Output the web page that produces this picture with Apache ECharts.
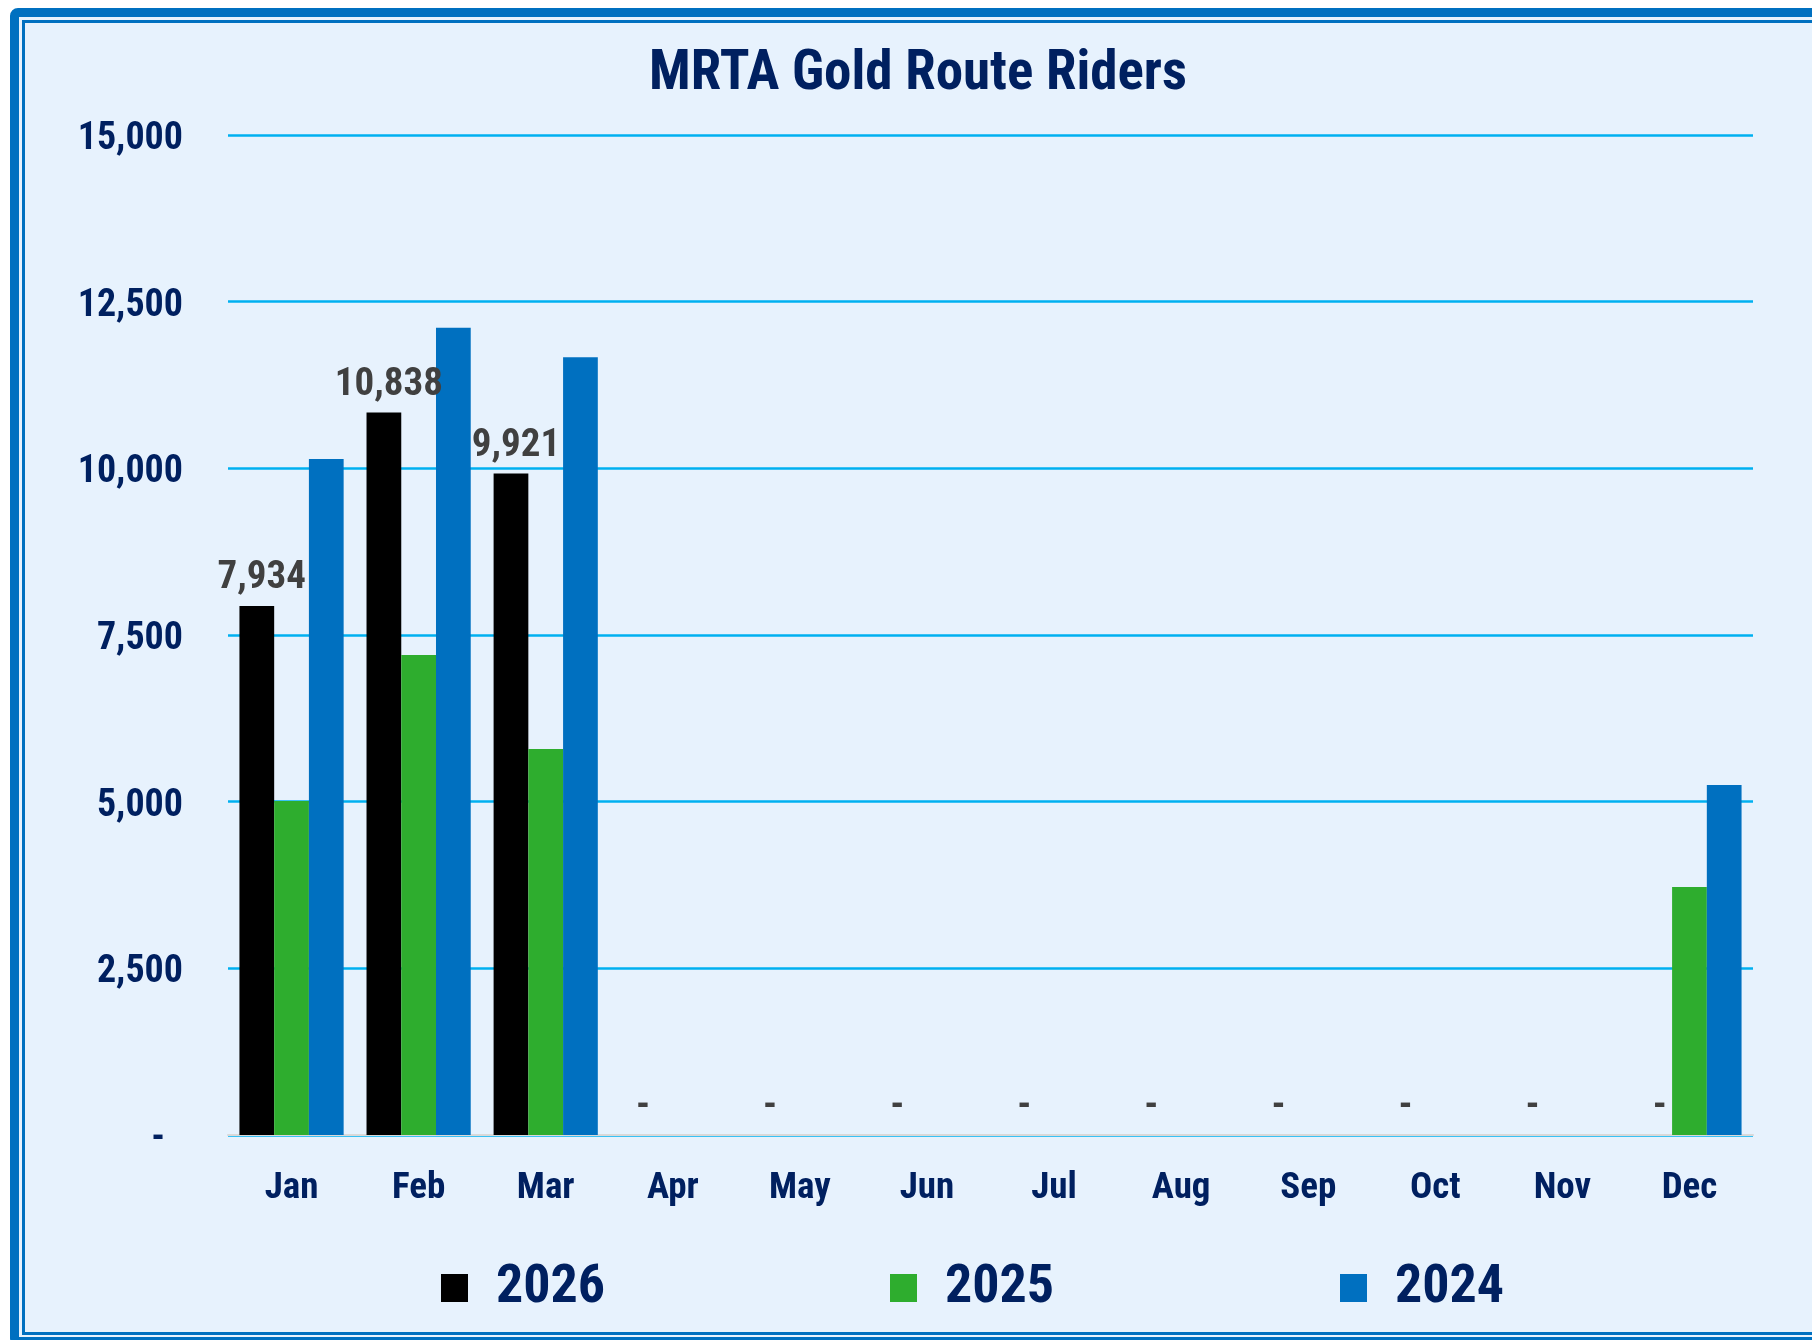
<!DOCTYPE html>
<html>
<head>
<meta charset="utf-8">
<script src="https://cdn.jsdelivr.net/npm/echarts@6/dist/echarts.min.js"></script>
<style>
    html, body { margin: 0; padding: 0; background: #ffffff; overflow: hidden; }
    .wrap { position: relative; width: 1812px; height: 1340px; overflow: hidden; }
    .frame-out { position: absolute; left: 10px; top: 8px; width: 1830px; height: 1338px;
        border: 9px solid #0070C0; border-radius: 8px; box-sizing: border-box; background: #E7F2FD; }
    .frame-in { position: absolute; left: 22px; top: 20px; width: 1820px; height: 1315px;
        border: 3px solid #0070C0; box-sizing: border-box; }
    #main { position: absolute; left: 0; top: 0; width: 1812px; height: 1340px; }
</style>
</head>
<body>
<div class="wrap">
    <div class="frame-out"></div>
    <div class="frame-in"></div>
    <div id="main"></div>
</div>
<script>
    // 数据
    var months = ['Jan', 'Feb', 'Mar', 'Apr', 'May', 'Jun', 'Jul', 'Aug', 'Sep', 'Oct', 'Nov', 'Dec'];
    var riders2026 = [7934, 10838, 9921, 0, 0, 0, 0, 0, 0, 0, 0, 0];
    var riders2025 = [5010, 7200, 5790, 0, 0, 0, 0, 0, 0, 0, 0, 3720];
    var riders2024 = [10140, 12110, 11665, 0, 0, 0, 0, 0, 0, 0, 0, 5250];
    var yearNames = ['2026', '2025', '2024'];
    var barColors = ['#000000', '#2EAD2E', '#0070C0'];

    var font = '"Liberation Sans Narrow", "Arial Narrow", "Roboto Condensed", sans-serif';
    var navy = '#002060';

    function fmt(v) {
        return v === 0 ? '-' : v.toLocaleString('en-US');
    }

    var myChart = echarts.init(document.getElementById('main'));

    var legendLefts = [436, 885, 1335];
    var legends = yearNames.map(function (name, i) {
        return {
            data: [name],
            left: legendLefts[i],
            top: 1255,
            itemWidth: 27,
            itemHeight: 28,
            icon: 'rect',
            selectedMode: false,
            textStyle: {
                fontFamily: font,
                fontWeight: 'bold',
                fontSize: 54,
                lineHeight: 56,
                color: navy,
                padding: [0, 0, 0, 23]
            }
        };
    });

    var seriesData = [riders2026, riders2025, riders2024];
    var series = yearNames.map(function (name, i) {
        var s = {
            name: name,
            type: 'bar',
            data: seriesData[i],
            barGap: '0%',
            barCategoryGap: '18%',
            itemStyle: { color: barColors[i] }
        };
        if (i === 0) {
            s.label = {
                show: true,
                position: 'top',
                distance: 8,
                offset: [5, 0],
                fontFamily: font,
                fontWeight: 'bold',
                fontSize: 39,
                color: '#404040',
                formatter: function (p) { return fmt(p.value); }
            };
        }
        return s;
    });

    var option = {
        animation: false,
        title: {
            text: 'MRTA Gold Route Riders',
            left: 913,
            top: 43,
            textAlign: 'center',
            textStyle: {
                fontFamily: font,
                fontWeight: 'bold',
                fontSize: 55,
                color: navy
            }
        },
        legend: legends,
        grid: {
            left: 228,
            right: 59,
            top: 135,
            bottom: 205
        },
        xAxis: {
            type: 'category',
            data: months,
            axisTick: { show: false },
            axisLine: { lineStyle: { color: '#D9D9D9', width: 2 } },
            axisLabel: {
                margin: 35,
                fontFamily: font,
                fontWeight: 'bold',
                fontSize: 37,
                color: navy
            }
        },
        yAxis: {
            type: 'value',
            min: 0,
            max: 15000,
            interval: 2500,
            axisLine: { show: false },
            axisTick: { show: false },
            splitLine: { lineStyle: { color: '#00B0F0', width: 2.5 } },
            axisLabel: {
                margin: 45,
                fontFamily: font,
                fontWeight: 'bold',
                fontSize: 38,
                color: navy,
                padding: [9, 0, 0, 0],
                formatter: function (v) {
                    return v === 0 ? '{d|-}' : fmt(v);
                },
                rich: {
                    d: {
                        fontFamily: font,
                        fontWeight: 'bold',
                        fontSize: 38,
                        color: navy,
                        padding: [0, 18, 0, 0]
                    }
                }
            }
        },
        series: series
    };

    window.onresize = myChart.resize;
    myChart.setOption(option);
</script>
</body>
</html>
